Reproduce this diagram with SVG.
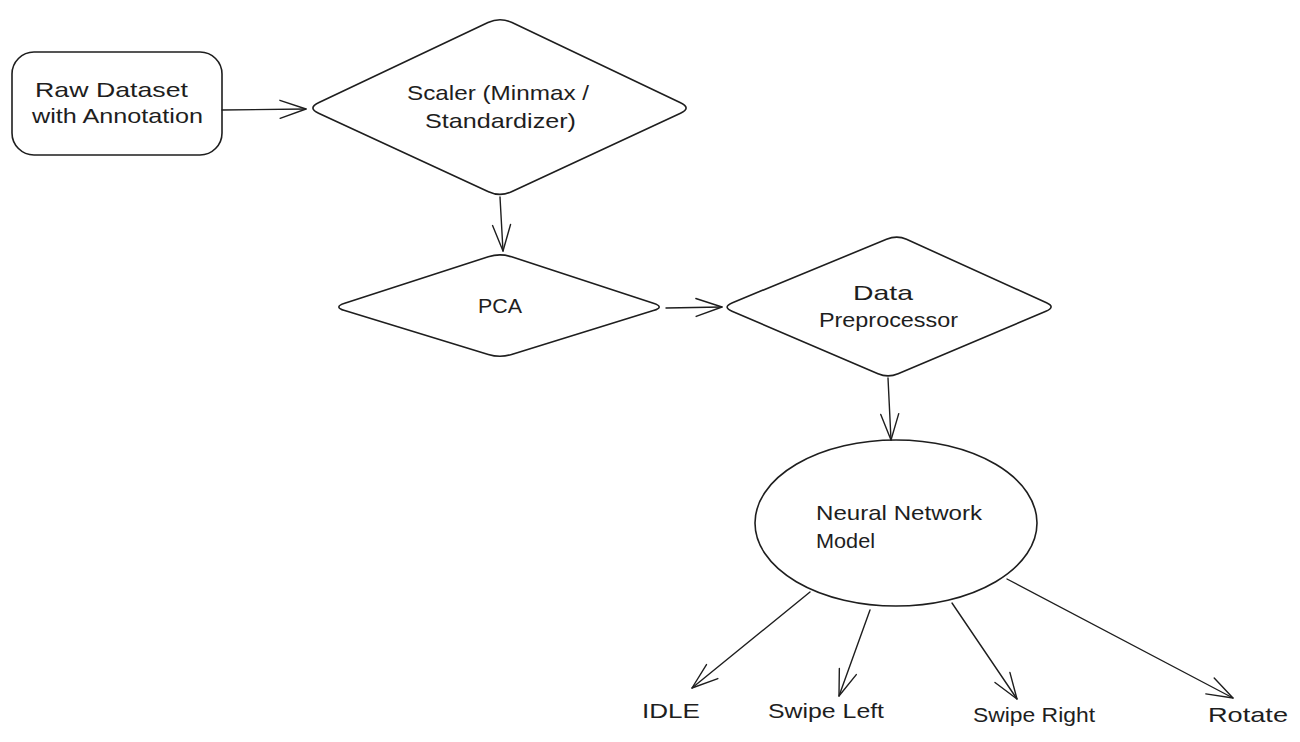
<svg xmlns="http://www.w3.org/2000/svg" width="1300" height="742" viewBox="0 0 1300 742">
  <defs>
    <style>
      .shape { fill: none; stroke: #1e1e1e; stroke-width: 1.6; stroke-linejoin: round; }
      .edge { fill: none; stroke: #1e1e1e; stroke-width: 1.4; stroke-linecap: round; }
      .label { font-family: "Liberation Sans", "DejaVu Sans", sans-serif; font-size: 21px; fill: #1e1e1e; }
    </style>
    <marker id="arrow" viewBox="-28 -12 30 24" markerWidth="30" markerHeight="24" refX="0" refY="0" orient="auto" markerUnits="userSpaceOnUse">
      <path d="M-26,-9 L0,0 L-26,9" fill="none" stroke="#1e1e1e" stroke-width="1.4" stroke-linecap="round" stroke-linejoin="round"/>
    </marker>
  </defs>
  <rect width="1300" height="742" fill="#ffffff"/>

  <g id="connectors">
    <path class="edge" d="M222,110 L306,109" marker-end="url(#arrow)"/>
    <path class="edge" d="M500,197 L503,251" marker-end="url(#arrow)"/>
    <path class="edge" d="M666,308 L722,307" marker-end="url(#arrow)"/>
    <path class="edge" d="M888,378 L891,440" marker-end="url(#arrow)"/>
    <path class="edge" d="M810,592 L692,688" marker-end="url(#arrow)"/>
    <path class="edge" d="M870,610 L839,696" marker-end="url(#arrow)"/>
    <path class="edge" d="M952,603 L1017,699" marker-end="url(#arrow)"/>
    <path class="edge" d="M1007,579 L1233,698" marker-end="url(#arrow)"/>
  </g>

  <g id="node-raw-dataset">
    <rect class="shape" x="12" y="52" width="210" height="103" rx="22" ry="22"/>
    <text class="label" x="35" y="97" textLength="153" lengthAdjust="spacingAndGlyphs">Raw Dataset</text>
    <text class="label" x="32" y="123" textLength="171" lengthAdjust="spacingAndGlyphs">with Annotation</text>
  </g>

  <g id="node-scaler">
    <path class="shape" d="M319,102.5 L488,22.5 Q500,17 512,22.5 L680,102.5 Q692,108 680.5,113.3 L511.5,191.7 Q500,197 488.5,191.7 L318.6,113.3 Q307,108 319,102.5 Z"/>
    <text class="label" x="407" y="100" textLength="182" lengthAdjust="spacingAndGlyphs">Scaler (Minmax /</text>
    <text class="label" x="425" y="128" textLength="151" lengthAdjust="spacingAndGlyphs">Standardizer)</text>
  </g>

  <g id="node-pca">
    <path class="shape" d="M344.7,303.2 L488.3,256.8 Q500,253 511.6,256.8 L653.4,303.2 Q665,307 653.4,310.6 L511.6,354.4 Q500,358 488.3,354.4 L344.7,310.6 Q333,307 344.7,303.2 Z"/>
    <text class="label" x="478" y="313" textLength="44" lengthAdjust="spacingAndGlyphs">PCA</text>
  </g>

  <g id="node-data-preprocessor">
    <path class="shape" d="M732.5,302.7 L886.5,239.3 Q897,235 906.5,239.3 L1046.5,302.7 Q1056,307 1045.9,311.3 L898.1,373.7 Q888,378 878,373.7 L732,311.3 Q722,307 732.5,302.7 Z"/>
    <text class="label" x="853" y="300" textLength="60" lengthAdjust="spacingAndGlyphs">Data</text>
    <text class="label" x="819" y="327" textLength="139" lengthAdjust="spacingAndGlyphs">Preprocessor</text>
  </g>

  <g id="node-neural-network">
    <ellipse class="shape" cx="896" cy="523" rx="141" ry="83"/>
    <text class="label" x="816" y="520" textLength="166" lengthAdjust="spacingAndGlyphs">Neural Network</text>
    <text class="label" x="816" y="548" textLength="59" lengthAdjust="spacingAndGlyphs">Model</text>
  </g>

  <g id="node-idle">
    <text class="label" x="642" y="718" textLength="58" lengthAdjust="spacingAndGlyphs">IDLE</text>
  </g>
  <g id="node-swipe-left">
    <text class="label" x="768" y="718" textLength="116" lengthAdjust="spacingAndGlyphs">Swipe Left</text>
  </g>
  <g id="node-swipe-right">
    <text class="label" x="973" y="722" textLength="122" lengthAdjust="spacingAndGlyphs">Swipe Right</text>
  </g>
  <g id="node-rotate">
    <text class="label" x="1208" y="722" textLength="80" lengthAdjust="spacingAndGlyphs">Rotate</text>
  </g>
</svg>
